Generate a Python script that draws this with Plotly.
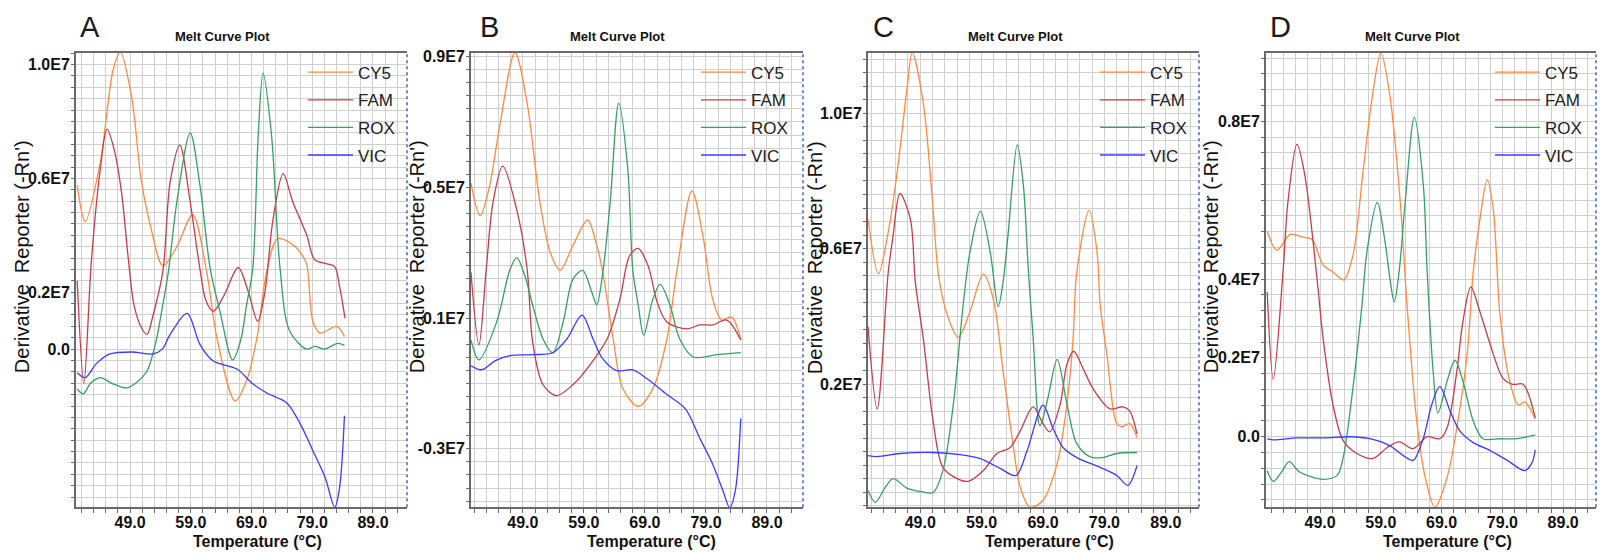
import numpy as np
import plotly.graph_objects as go

W, H = 1601, 554

# ---------------- data (values in units of 1E7) ----------------
A_CY5 = [(40.3,0.577),(41.6,0.448),(44.1,0.657),(46.2,0.98),(47.4,1.044),(49.3,0.88),(50.8,0.60),(52.4,0.43),(54.4,0.293),(56.7,0.36),(59.3,0.472),(61.6,0.273),(63.3,0.04),(66.3,-0.182),(68.2,-0.11),(69.9,0.04),(71.5,0.273),(73.3,0.388),(75.8,0.367),(77.3,0.332),(78.1,0.297),(79.1,0.098),(80.3,0.056),(83.0,0.08),(84.3,0.045)]
A_FAM = [(40.3,0.24),(41.4,-0.12),(42.6,0.3),(44.1,0.633),(45.2,0.773),(46.4,0.70),(47.6,0.55),(48.7,0.32),(49.7,0.15),(51.0,0.07),(51.8,0.052),(52.8,0.12),(54.4,0.273),(55.6,0.587),(57.2,0.717),(58.9,0.517),(60.5,0.283),(61.5,0.17),(62.7,0.133),(64.5,0.19),(66.8,0.287),(68.5,0.2),(70.0,0.098),(71.2,0.2),(72.5,0.45),(74.2,0.617),(75.8,0.517),(78.1,0.40),(79.4,0.314),(81.4,0.30),(82.7,0.29),(83.5,0.22),(84.4,0.108)]
A_ROX = [(40.3,-0.14),(41.3,-0.157),(42.5,-0.12),(44.1,-0.10),(46.0,-0.12),(48.5,-0.136),(50.2,-0.115),(51.8,-0.077),(53.2,0.02),(54.4,0.157),(55.3,0.27),(56.7,0.517),(58.9,0.76),(60.5,0.577),(62.2,0.283),(63.8,0.133),(65.9,-0.038),(67.2,0.03),(68.2,0.157),(69.2,0.283),(70.1,0.75),(70.9,0.97),(72.3,0.75),(73.7,0.283),(75.3,0.063),(78.1,0.0),(79.4,0.01),(81.0,0.0),(83.2,0.02),(84.3,0.013)]
A_VIC = [(40.3,-0.083),(41.6,-0.10),(43.5,-0.05),(45.7,-0.017),(49.3,-0.01),(52.8,-0.017),(54.3,0.0),(55.6,0.052),(58.4,0.126),(60.5,0.017),(62.7,-0.042),(66.6,-0.07),(69.2,-0.122),(71.5,-0.154),(74.8,-0.189),(77.0,-0.262),(79.1,-0.357),(81.1,-0.45),(82.7,-0.556),(83.5,-0.486),(84.3,-0.234)]

B_CY5 = [(40.5,0.513),(42.0,0.413),(43.5,0.5),(45.2,0.687),(47.7,0.912),(49.7,0.757),(51.8,0.453),(53.5,0.30),(55.1,0.246),(57.2,0.322),(59.6,0.40),(61.0,0.33),(62.1,0.24),(63.8,0.036),(65.4,-0.116),(67.9,-0.17),(70.3,-0.116),(72.6,0.036),(74.2,0.24),(76.7,0.489),(78.5,0.352),(80.1,0.158),(81.6,0.094),(83.2,0.103),(84.7,0.036)]
B_FAM = [(40.5,0.24),(41.8,0.018),(43.0,0.25),(44.1,0.453),(45.7,0.565),(48.0,0.431),(49.7,0.249),(50.6,0.027),(52.3,-0.104),(54.5,-0.137),(57.2,-0.104),(60.0,-0.043),(62.8,0.036),(64.9,0.158),(66.5,0.291),(67.9,0.313),(69.5,0.261),(71.0,0.149),(72.6,0.088),(75.9,0.067),(78.0,0.079),(80.1,0.079),(82.4,0.094),(84.7,0.033)]
B_ROX = [(40.5,0.033),(41.8,-0.028),(44.7,0.088),(46.9,0.249),(48.0,0.285),(49.3,0.231),(50.6,0.14),(52.3,0.036),(53.9,-0.006),(55.6,0.088),(57.2,0.219),(58.8,0.246),(60.3,0.179),(61.1,0.14),(62.1,0.24),(63.3,0.453),(64.7,0.757),(66.2,0.553),(67.0,0.249),(67.9,0.14),(68.8,0.048),(70.3,0.158),(71.5,0.203),(73.1,0.14),(74.7,0.036),(76.9,-0.019),(80.8,-0.012),(84.7,-0.006)]
B_VIC = [(40.5,-0.046),(42.3,-0.058),(44.5,-0.03),(46.9,-0.015),(50.6,-0.012),(53.9,-0.006),(56.2,0.036),(58.7,0.109),(60.5,0.036),(62.1,-0.025),(64.4,-0.061),(66.9,-0.058),(69.3,-0.085),(72.6,-0.134),(75.6,-0.177),(78.0,-0.268),(80.1,-0.347),(81.8,-0.429),(82.9,-0.48),(83.8,-0.429),(84.7,-0.207)]

C_CY5 = [(40.5,0.687),(42.2,0.526),(43.8,0.65),(45.3,0.833),(46.9,1.08),(47.7,1.18),(49.5,1.03),(51.0,0.74),(52.0,0.52),(53.4,0.405),(55.2,0.338),(57.1,0.414),(59.3,0.525),(60.9,0.452),(62.5,0.238),(64.1,0.024),(65.3,-0.105),(66.9,-0.164),(69.0,-0.143),(71.3,-0.035),(72.9,0.141),(73.9,0.335),(74.5,0.531),(76.5,0.713),(77.8,0.59),(78.3,0.435),(79.4,0.288),(81.0,0.083),(81.8,0.074),(83.1,0.083),(84.3,0.042)]
C_FAM = [(40.5,0.37),(42.0,0.127),(43.8,0.531),(44.6,0.64),(45.7,0.763),(47.4,0.687),(48.2,0.502),(49.5,0.335),(51.1,0.091),(52.7,-0.046),(55.0,-0.079),(56.8,-0.087),(59.3,-0.055),(61.5,-0.005),(63.6,0.012),(65.3,0.062),(67.4,0.133),(69.0,0.083),(70.1,0.059),(71.8,0.141),(72.9,0.259),(74.0,0.297),(75.5,0.247),(77.1,0.188),(79.9,0.127),(82.0,0.133),(83.1,0.121),(84.3,0.053)]
C_ROX = [(40.5,-0.114),(41.7,-0.149),(43.3,-0.105),(44.6,-0.079),(46.9,-0.108),(49.0,-0.117),(51.1,-0.12),(52.7,-0.055),(54.4,0.141),(56.0,0.435),(57.1,0.59),(58.8,0.71),(60.4,0.59),(61.7,0.429),(62.5,0.502),(63.3,0.64),(64.8,0.907),(65.8,0.787),(66.6,0.54),(67.4,0.335),(68.5,0.077),(69.8,0.159),(71.3,0.273),(72.9,0.141),(74.5,0.024),(76.6,-0.014),(78.6,-0.017),(81.0,-0.005),(84.3,-0.002)]
C_VIC = [(40.5,-0.011),(42.0,-0.014),(45.7,-0.005),(51.1,-0.002),(55.5,-0.008),(58.8,-0.02),(62.0,-0.049),(64.6,-0.07),(66.4,0.003),(69.0,0.138),(70.6,0.071),(72.3,0.012),(74.5,-0.017),(78.3,-0.046),(81.0,-0.07),(82.8,-0.099),(84.3,-0.041)]

D_CY5 = [(40.3,0.521),(41.9,0.473),(44.1,0.513),(46.2,0.506),(47.7,0.5),(49.5,0.435),(51.1,0.418),(52.9,0.398),(54.4,0.46),(56.1,0.677),(57.6,0.863),(59.0,0.974),(60.5,0.863),(62.2,0.594),(63.3,0.335),(64.9,0.04),(66.3,-0.103),(67.9,-0.179),(69.9,-0.103),(71.5,0.023),(73.2,0.209),(74.2,0.418),(75.3,0.551),(76.5,0.652),(77.5,0.576),(78.6,0.309),(80.2,0.141),(81.6,0.081),(82.7,0.088),(84.4,0.045)]
D_FAM = [(40.3,0.367),(41.3,0.146),(42.9,0.418),(43.7,0.594),(45.2,0.742),(46.5,0.662),(48.5,0.4),(49.5,0.249),(51.1,0.083),(52.8,-0.01),(55.1,-0.043),(57.7,-0.055),(60.0,-0.028),(62.0,-0.013),(64.3,-0.03),(66.6,0.0),(68.7,-0.005),(69.9,0.023),(71.5,0.166),(72.5,0.292),(73.8,0.38),(75.3,0.317),(77.0,0.234),(79.1,0.148),(80.7,0.133),(82.4,0.133),(84.4,0.048)]
D_ROX = [(40.3,-0.086),(41.3,-0.113),(42.8,-0.086),(43.9,-0.063),(45.7,-0.09),(49.5,-0.108),(51.8,-0.098),(52.8,-0.053),(54.4,0.123),(55.9,0.335),(56.7,0.468),(58.4,0.594),(59.7,0.493),(60.5,0.4),(61.2,0.342),(62.0,0.418),(63.0,0.594),(64.5,0.81),(66.0,0.636),(66.6,0.425),(67.6,0.166),(68.4,0.06),(69.9,0.141),(71.2,0.194),(72.5,0.141),(74.2,0.04),(75.8,-0.005),(78.6,-0.005),(81.4,-0.005),(84.4,0.005)]
D_VIC = [(40.3,-0.005),(41.3,-0.008),(45.2,-0.003),(49.5,-0.003),(53.9,0.0),(57.2,-0.005),(60.5,-0.023),(62.7,-0.048),(64.3,-0.06),(66.0,-0.003),(67.4,0.083),(68.7,0.128),(70.4,0.065),(72.0,0.015),(74.2,-0.015),(77.0,-0.035),(79.8,-0.06),(82.7,-0.086),(83.9,-0.065),(84.4,-0.033)]

SERIES = ["CY5", "FAM", "ROX", "VIC"]
COLORS = {"CY5": "#FF8A3D", "FAM": "#C63D47", "ROX": "#34A064", "VIC": "#3B3BFF"}
PANEL_LETTERS = ["A", "B", "C", "D"]
PANEL_DATA = [
    [A_CY5, A_FAM, A_ROX, A_VIC],
    [B_CY5, B_FAM, B_ROX, B_VIC],
    [C_CY5, C_FAM, C_ROX, C_VIC],
    [D_CY5, D_FAM, D_ROX, D_VIC],
]
X_TICK_LABELS = [49.0, 59.0, 69.0, 79.0, 89.0]
Y_TICK_LABELS = [
    [1.0, 0.6, 0.2, 0.0],
    [0.9, 0.5, 0.1, -0.3],
    [1.0, 0.6, 0.2],
    [0.8, 0.4, 0.2, 0.0],
]
X_RANGES = [[40.1, 94.6], [40.5, 94.9], [40.5, 94.4], [40.1, 94.4]]
Y_RANGES = [[-0.556, 1.042], [-0.479, 0.912], [-0.164, 1.179], [-0.179, 0.974]]

# ---------------- layout geometry (pixels) ----------------
PLOT_LR = [(76, 407), (471, 803), (868, 1199), (1266, 1596)]
PLOT_TOP, PLOT_BOT = 49, 507
LETTER_X = [78, 478, 871, 1268]
TITLE_X = [222, 617, 1015, 1412]
XTITLE_X = [257, 651, 1049, 1447]
YTITLE_X = [22, 417, 815, 1211]
LEGEND_X = [303, 696, 1095, 1490]

FONT = "Liberation Sans, Arial, sans-serif"
GRID = "#cfcfcf"


def py(p):
    return 1 - p / H


def ylab(v):
    if v == 0:
        return "0.0"
    return f"{v:.1f}E7"


fig = go.Figure()
layout = dict(
    width=W, height=H,
    margin=dict(l=0, r=0, t=0, b=0),
    paper_bgcolor="white", plot_bgcolor="white",
    font=dict(family=FONT, color="#111"),
    showlegend=True,
    annotations=[], shapes=[],
)

for i in range(4):
    sfx = "" if i == 0 else str(i + 1)
    xa, ya = "x" + sfx, "y" + sfx
    lg = "legend" + sfx
    for name, pts in zip(SERIES, PANEL_DATA[i]):
        t = [p[0] for p in pts]
        v = [p[1] for p in pts]
        fig.add_trace(go.Scatter(
            x=t, y=v, mode="lines", name=name, legend=lg,
            legendgroup=f"{name}{i}",
            line=dict(color=COLORS[name], width=1.3, shape="spline", smoothing=0.9),
            xaxis=xa, yaxis=ya, cliponaxis=True,
        ))

    # grid ticks every 2 degC through labelled ticks; every 0.04E7 through labelled ticks
    x0 = X_TICK_LABELS[0]
    xr = X_RANGES[i]
    xgrid = [x0 + 2 * k for k in range(int(np.floor((xr[0] - x0) / 2)), int(np.ceil((xr[1] - x0) / 2)) + 1)
             if xr[0] <= x0 + 2 * k <= xr[1]]
    xtext = [f"{g:.1f}" if any(abs(g - L) < 1e-6 for L in X_TICK_LABELS) else "" for g in xgrid]

    yr = Y_RANGES[i]
    y0 = Y_TICK_LABELS[i][-1]
    ygrid = []
    for k in range(-60, 60):
        g = round(y0 + 0.04 * k, 4)
        if yr[0] <= g <= yr[1]:
            ygrid.append(g)
    ytext = [ylab(g) if any(abs(g - L) < 1e-6 for L in Y_TICK_LABELS[i]) else "" for g in ygrid]

    l, r = PLOT_LR[i]
    layout["xaxis" + sfx] = dict(
        domain=[l / W, r / W], range=xr, anchor=ya,
        tickmode="array", tickvals=xgrid, ticktext=xtext,
        showgrid=True, gridcolor=GRID, gridwidth=1, zeroline=False,
        showline=True, linecolor="#6a6a6a", linewidth=2, mirror=True,
        ticks="outside", ticklen=4, tickcolor="#6a6a6a", tickwidth=1,
        ticklabelstandoff=-5,
        tickfont=dict(family=FONT, size=16, color="#111", weight="bold"),
        fixedrange=True,
    )
    layout["yaxis" + sfx] = dict(
        domain=[py(PLOT_BOT), py(PLOT_TOP)], range=yr, anchor=xa,
        tickmode="array", tickvals=ygrid, ticktext=ytext,
        showgrid=True, gridcolor=GRID, gridwidth=1, zeroline=False,
        showline=True, linecolor="#6a6a6a", linewidth=2, mirror=False,
        ticks="outside", ticklen=3, tickcolor="#6a6a6a", tickwidth=1,
        ticklabelstandoff=-2,
        tickfont=dict(family=FONT, size=16, color="#111", weight="bold"),
        fixedrange=True,
    )
    layout[lg] = dict(
        x=LEGEND_X[i] / W, y=py(51), xanchor="left", yanchor="top",
        bgcolor="rgba(0,0,0,0)", borderwidth=0,
        font=dict(family=FONT, size=17, color="#222"),
        itemwidth=45, tracegroupgap=2.5,
    )
    # right border (blue, dotted)
    layout["shapes"].append(dict(
        type="line", xref=xa + " domain", yref=ya + " domain",
        x0=1, x1=1, y0=0, y1=1,
        line=dict(color="#3D63C8", width=1.5, dash="dot"),
    ))
    # texts
    layout["annotations"] += [
        dict(text=PANEL_LETTERS[i], x=LETTER_X[i] / W, y=py(23), xref="paper", yref="paper",
             xanchor="left", yanchor="middle", showarrow=False,
             font=dict(family=FONT, size=29, color="#1a1a1a")),
        dict(text="Melt Curve Plot", x=TITLE_X[i] / W, y=py(33), xref="paper", yref="paper",
             xanchor="center", yanchor="middle", showarrow=False,
             font=dict(family=FONT, size=13, color="#111", weight="bold")),
        dict(text="Temperature (°C)", x=XTITLE_X[i] / W, y=py(541), xref="paper", yref="paper",
             xanchor="center", yanchor="middle", showarrow=False,
             font=dict(family=FONT, size=16, color="#111", weight="bold")),
        dict(text="Derivative\u00a0\u00a0Reporter (-Rn')", x=YTITLE_X[i] / W, y=py(255),
             xref="paper", yref="paper", xanchor="center", yanchor="middle",
             textangle=-90, showarrow=False,
             font=dict(family=FONT, size=20, color="#111")),
    ]

fig.update_layout(**layout)
fig.write_html("out.html")
